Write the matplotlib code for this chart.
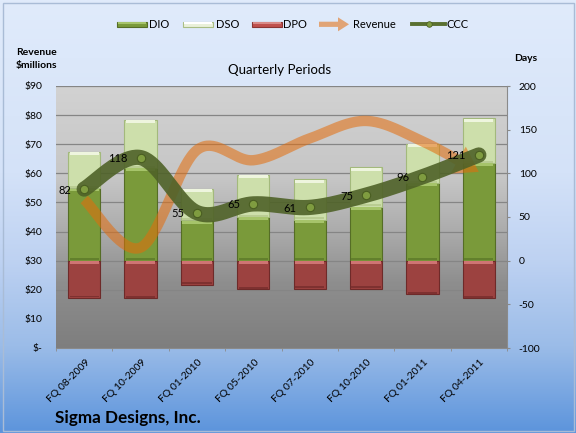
import numpy as np
import matplotlib
matplotlib.use('Agg')
import matplotlib.pyplot as plt
from matplotlib.patches import Rectangle, Polygon
from matplotlib.lines import Line2D
from matplotlib.transforms import ScaledTranslation

# ---------------- data ----------------
periods = ["FQ 08-2009", "FQ 10-2009", "FQ 01-2010", "FQ 05-2010",
           "FQ 07-2010", "FQ 10-2010", "FQ 01-2011", "FQ 04-2011"]
dio = [83, 106, 46, 50, 47, 62, 89, 112]
dso = [41.5, 55, 36, 48, 46, 45, 45, 51]
dpo = [42.5, 43, 27.5, 33, 32, 32, 38, 43]
ccc = [82, 118, 55, 65, 61, 75, 96, 121]
revenue = [51, 34.5, 68, 64.5, 72, 78, 71, 60.5]
rev_ticks = [0, 10, 20, 30, 40, 50, 60, 70, 80, 90]
rev_labels = ["$-", "$10", "$20", "$30", "$40", "$50", "$60", "$70", "$80", "$90"]
day_ticks = [-100, -50, 0, 50, 100, 150, 200]
day_labels = ["-100", "-50", "0", "50", "100", "150", "200"]

FONT = ['Lato', 'DejaVu Sans']
plt.rcParams['font.family'] = FONT

W, H = 576, 433
fig = plt.figure(figsize=(W / 100, H / 100), dpi=100)


def fx(px):
    return px / W


def fy(py):
    return 1 - py / H


def gradient(stops, n=400):
    fr = np.array([s[0] for s in stops])
    cols = np.array([s[1] for s in stops], float) / 255.0
    t = np.linspace(0, 1, n)
    img = np.stack([np.interp(t, fr, cols[:, k]) for k in range(3)], axis=-1)
    return img[:, None, :]


# figure background gradient
bg = fig.add_axes([0, 0, 1, 1], zorder=-10)
bg.imshow(gradient([(0, (224, 235, 251)), (0.4, (212, 226, 248)), (0.6, (190, 210, 242)),
                    (0.8, (155, 188, 232)), (1.0, (92, 148, 220))]),
          extent=[0, 1, 0, 1], aspect='auto', origin='upper')
bg.set_xlim(0, 1); bg.set_ylim(0, 1)
bg.axis('off')
fig.add_artist(Rectangle((fx(2.5), fy(430.5)), fx(571), 428 / H,
                         transform=fig.transFigure, facecolor='none',
                         edgecolor='#a9bcd6', lw=1, zorder=-5))

# ---------------- axes ----------------
ax = fig.add_axes([fx(56), fy(348), fx(451), 262 / H])
ax.set_zorder(1)
x = np.arange(len(periods))
ax.imshow(gradient([(0, (210, 210, 210)), (0.35, (198, 198, 198)), (0.55, (172, 172, 172)),
                    (0.75, (142, 142, 142)), (1.0, (126, 126, 126))]),
          extent=[-0.5, len(periods) - 0.5, 0, 90], aspect='auto', origin='upper', zorder=0)
ax.set_xlim(-0.5, len(periods) - 0.5)
ax.set_ylim(0, 90)
ax.set_yticks(rev_ticks)
ax.set_yticklabels(rev_labels)
ax.grid(axis='y', color='#858585', lw=0.9)
ax.set_axisbelow(False)
ax.tick_params(axis='y', length=0, pad=10, labelsize=7.5)
ax.set_xticks(x)
ax.set_xticklabels(periods, rotation=45, ha='right', va='center', rotation_mode='anchor')
ax.tick_params(axis='x', length=0, pad=9, labelsize=7.5)
ax.set_xticks(np.arange(len(periods) + 1) - 0.5, minor=True)
ax.tick_params(axis='x', which='minor', length=2.5, color='#8a8a8a', direction='out')
for lbl in ax.get_xticklabels():
    lbl.set_transform(lbl.get_transform() + ScaledTranslation(4 / 100, 0, fig.dpi_scale_trans))
for s in ['left', 'top', 'right']:
    ax.spines[s].set_visible(False)
ax.spines['bottom'].set_color('#8a8a8a')

ax2 = ax.twinx()
ax2.set_zorder(2)
ax2.patch.set_visible(False)
ax2.set_ylim(-100, 200)
ax2.set_yticks(day_ticks)
ax2.set_yticklabels(day_labels)
ax2.tick_params(axis='y', length=2.5, pad=6, labelsize=7.5, color='#8a8a8a')
for s in ['left', 'top', 'bottom']:
    ax2.spines[s].set_visible(False)
ax2.spines['right'].set_color('#8a8a8a')

# ---------------- bars ----------------
bw = 0.57
hl = 3.4   # top bevel band height (days)
bl = 2.2   # bottom shade band height (days)
g_col, g_edge, g_hi, g_lo = '#7a9a3a', '#556d26', '#a6c46a', '#62802c'
s_col, s_edge, s_hi, s_lo = '#cddfab', '#a3b97c', '#eef5de', '#b9cc92'
r_col, r_edge, r_hi, r_lo = '#9c4240', '#6e2a29', '#cf7473', '#7e3130'
dio_a = np.array(dio, float); dso_a = np.array(dso, float); dpo_a = np.array(dpo, float)


def seg(bottom, height, col, edge, hi, lo):
    ax2.bar(x, height, bottom=bottom, width=bw, color=col, edgecolor=edge, lw=0.8, zorder=2)
    top = bottom + height
    ax2.bar(x, hl, bottom=top - hl - 0.4, width=bw - 0.05, color=hi, lw=0, zorder=2.1)
    ax2.bar(x, bl, bottom=bottom + 0.4, width=bw - 0.05, color=lo, lw=0, zorder=2.1)


seg(np.zeros(len(x)), dio_a, g_col, g_edge, g_hi, g_lo)
seg(dio_a, dso_a, s_col, s_edge, s_hi, s_lo)
seg(-dpo_a, dpo_a, r_col, r_edge, r_hi, r_lo)


# ---------------- smooth lines ----------------
def smooth(vals, n=40):
    vals = np.asarray(vals, float)
    P = np.column_stack([np.arange(len(vals), dtype=float), vals])
    Pe = np.vstack([P[0], P, P[-1]])
    out = []
    t = np.linspace(0, 1, n)[:, None]
    for i in range(len(P) - 1):
        p0, p1, p2, p3 = Pe[i], Pe[i + 1], Pe[i + 2], Pe[i + 3]
        c1 = p1 + (p2 - p0) / 6
        c2 = p2 - (p3 - p1) / 6
        sg = (1 - t) ** 3 * p1 + 3 * (1 - t) ** 2 * t * c1 + 3 * (1 - t) * t ** 2 * c2 + t ** 3 * p2
        out.append(sg if i == 0 else sg[1:])
    return np.vstack(out)


# Revenue (left axis scale) with arrowhead
orange = '#E46C0A'
rv = smooth(revenue)
disp = ax.transData.transform(rv)
tip = disp[-1]
d = np.hypot(*(disp - tip).T)
head_len, head_w = 23, 31
idx = np.where(d >= head_len)[0][-1]
base = disp[idx]
u = (tip - base) / np.hypot(*(tip - base))
perp = np.array([-u[1], u[0]])
line_pts = ax.transData.inverted().transform(disp[:idx + 1])
ax2.plot(line_pts[:, 0], line_pts[:, 1], transform=ax.transData, color=orange,
         alpha=0.55, lw=7.5, solid_capstyle='butt', zorder=3)
head = np.array([tip, base + perp * head_w / 2, base - perp * head_w / 2])
head_fig = fig.transFigure.inverted().transform(head)
ax2.add_patch(Polygon(head_fig, closed=True, transform=fig.transFigure,
                      facecolor=orange, alpha=0.55, lw=0, zorder=3))

# CCC
cc = smooth(ccc)
ax2.plot(cc[:, 0], cc[:, 1], color='#4F6228', alpha=0.9, lw=11, solid_capstyle='round', zorder=4)
ax2.plot(x, ccc, 'o', ms=6, mfc='#7f9c40', mec='#4a5e22', mew=0.8, zorder=5)
for xi, v in zip(x, ccc):
    ax2.annotate(str(v), (xi, v), xytext=(-13, -1), textcoords='offset pixels',
                 ha='right', va='center', fontsize=8, color='black', zorder=6)

# ---------------- texts ----------------
fig.text(fx(280), fy(70), "Quarterly Periods", ha='center', va='center', fontsize=9.5)
fig.text(fx(36.5), fy(59), "Revenue\n$millions", ha='center', va='center', fontsize=7.5,
         fontweight='bold', linespacing=1.45)
fig.text(fx(526), fy(58.3), "Days", ha='center', va='center', fontsize=7.5, fontweight='bold')
fig.text(fx(55), fy(418), "Sigma Designs, Inc.", ha='left', va='center', fontsize=12.3,
         fontweight='bold')

# ---------------- legend ----------------
ly = 24.3


def leg_patch(x0, fc, ec, hi):
    fig.add_artist(Rectangle((fx(x0), fy(ly + 2.8)), fx(30), 5.6 / H, transform=fig.transFigure,
                             facecolor=fc, edgecolor=ec, lw=0.8, zorder=3))
    fig.add_artist(Rectangle((fx(x0 + 1), fy(ly - 0.6)), fx(28), 1.8 / H, transform=fig.transFigure,
                             facecolor=hi, edgecolor='none', zorder=3.1))


leg_patch(117, g_col, g_edge, g_hi)
fig.text(fx(149.5), fy(ly), "DIO", ha='left', va='center', fontsize=8)
leg_patch(183, '#e9f0da', '#a9bd84', '#ffffff')
fig.text(fx(216), fy(ly), "DSO", ha='left', va='center', fontsize=8)
leg_patch(252, '#c0504d', '#8c3533', '#d98a87')
fig.text(fx(283), fy(ly), "DPO", ha='left', va='center', fontsize=8)
arrow_px = [(319, ly - 2.6), (338, ly - 2.6), (338, ly - 7), (349, ly), (338, ly + 7),
            (338, ly + 2.6), (319, ly + 2.6)]
fig.add_artist(Polygon([(fx(a), fy(b)) for a, b in arrow_px], closed=True,
                       transform=fig.transFigure, facecolor=orange, alpha=0.55, lw=0, zorder=3))
fig.text(fx(353.5), fy(ly), "Revenue", ha='left', va='center', fontsize=8)
fig.add_artist(Line2D([fx(412), fx(445)], [fy(ly), fy(ly)], transform=fig.transFigure,
                      color='#5a7030', lw=2.8, zorder=3))
fig.add_artist(Line2D([fx(428.5)], [fy(ly)], transform=fig.transFigure, marker='o', ms=4,
                      mfc='#7f9c40', mec='#4a5e22', mew=0.6, zorder=3.2))
fig.text(fx(446.5), fy(ly), "CCC", ha='left', va='center', fontsize=8)

fig.savefig('out.png', dpi=100)
